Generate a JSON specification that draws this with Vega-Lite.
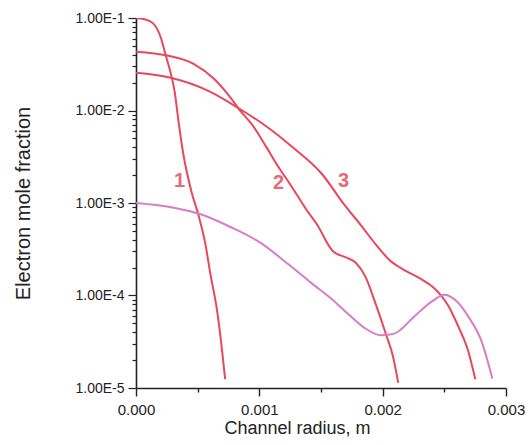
{
  "$schema": "https://vega.github.io/schema/vega-lite/v6.json",
  "autosize": "none",
  "width": 370,
  "height": 370,
  "padding": {"left": 136, "top": 18, "right": 24, "bottom": 57},
  "background": "white",
  "config": {"view": {"stroke": null}, "font": "Liberation Sans"},
  "datasets": {
    "curves": [
      {"curve": "1", "r": 0, "f": 0.1},
      {"curve": "1", "r": 0.00007, "f": 0.097},
      {"curve": "1", "r": 0.000137, "f": 0.088},
      {"curve": "1", "r": 0.0002, "f": 0.062},
      {"curve": "1", "r": 0.000237, "f": 0.0413},
      {"curve": "1", "r": 0.00029, "f": 0.0227},
      {"curve": "1", "r": 0.000312, "f": 0.0164},
      {"curve": "1", "r": 0.000346, "f": 0.0074},
      {"curve": "1", "r": 0.000385, "f": 0.0033},
      {"curve": "1", "r": 0.000448, "f": 0.00135},
      {"curve": "1", "r": 0.000509, "f": 0.00072},
      {"curve": "1", "r": 0.000561, "f": 0.00037},
      {"curve": "1", "r": 0.000604, "f": 0.000168},
      {"curve": "1", "r": 0.000655, "f": 0.000072},
      {"curve": "1", "r": 0.00069, "f": 0.0000316},
      {"curve": "1", "r": 0.000723, "f": 0.0000125},
      {"curve": "2", "r": 0, "f": 0.0432},
      {"curve": "2", "r": 0.000253, "f": 0.0393},
      {"curve": "2", "r": 0.00047, "f": 0.0318},
      {"curve": "2", "r": 0.00063, "f": 0.0222},
      {"curve": "2", "r": 0.000757, "f": 0.0143},
      {"curve": "2", "r": 0.000836, "f": 0.0103},
      {"curve": "2", "r": 0.000946, "f": 0.0069},
      {"curve": "2", "r": 0.00105, "f": 0.00417},
      {"curve": "2", "r": 0.00115, "f": 0.00251},
      {"curve": "2", "r": 0.00126, "f": 0.00152},
      {"curve": "2", "r": 0.001386, "f": 0.00083},
      {"curve": "2", "r": 0.001464, "f": 0.000596},
      {"curve": "2", "r": 0.001597, "f": 0.000301},
      {"curve": "2", "r": 0.001702, "f": 0.000258},
      {"curve": "2", "r": 0.001782, "f": 0.000226},
      {"curve": "2", "r": 0.001861, "f": 0.000159},
      {"curve": "2", "r": 0.001938, "f": 0.0000849},
      {"curve": "2", "r": 0.00203, "f": 0.000037},
      {"curve": "2", "r": 0.002082, "f": 0.0000224},
      {"curve": "2", "r": 0.002126, "f": 0.0000114},
      {"curve": "3", "r": 0, "f": 0.0256},
      {"curve": "3", "r": 0.000273, "f": 0.0227},
      {"curve": "3", "r": 0.000595, "f": 0.0161},
      {"curve": "3", "r": 0.000836, "f": 0.0105},
      {"curve": "3", "r": 0.00105, "f": 0.00685},
      {"curve": "3", "r": 0.00128, "f": 0.0039},
      {"curve": "3", "r": 0.001506, "f": 0.00207},
      {"curve": "3", "r": 0.001687, "f": 0.000966},
      {"curve": "3", "r": 0.001821, "f": 0.000581},
      {"curve": "3", "r": 0.001948, "f": 0.000351},
      {"curve": "3", "r": 0.002059, "f": 0.000239},
      {"curve": "3", "r": 0.002187, "f": 0.000185},
      {"curve": "3", "r": 0.002299, "f": 0.000154},
      {"curve": "3", "r": 0.002402, "f": 0.000125},
      {"curve": "3", "r": 0.002466, "f": 0.000103},
      {"curve": "3", "r": 0.002537, "f": 0.0000757},
      {"curve": "3", "r": 0.002615, "f": 0.0000457},
      {"curve": "3", "r": 0.002692, "f": 0.0000256},
      {"curve": "3", "r": 0.002751, "f": 0.0000124},
      {"curve": "4", "r": 0, "f": 0.001},
      {"curve": "4", "r": 0.000307, "f": 0.00089},
      {"curve": "4", "r": 0.000525, "f": 0.000755},
      {"curve": "4", "r": 0.000766, "f": 0.00055},
      {"curve": "4", "r": 0.001007, "f": 0.000373},
      {"curve": "4", "r": 0.001246, "f": 0.000212},
      {"curve": "4", "r": 0.00142, "f": 0.000137},
      {"curve": "4", "r": 0.001589, "f": 0.0000912},
      {"curve": "4", "r": 0.001725, "f": 0.0000622},
      {"curve": "4", "r": 0.001852, "f": 0.0000447},
      {"curve": "4", "r": 0.001989, "f": 0.0000371},
      {"curve": "4", "r": 0.002094, "f": 0.0000387},
      {"curve": "4", "r": 0.00226, "f": 0.00006},
      {"curve": "4", "r": 0.0024, "f": 0.0000863},
      {"curve": "4", "r": 0.002499, "f": 0.000102},
      {"curve": "4", "r": 0.002587, "f": 0.0000898},
      {"curve": "4", "r": 0.002697, "f": 0.0000584},
      {"curve": "4", "r": 0.002799, "f": 0.0000327},
      {"curve": "4", "r": 0.002889, "f": 0.0000127}
    ],
    "labels": [
      {"text": "1", "r": 0.000353, "f": 0.00174},
      {"text": "2", "r": 0.001155, "f": 0.00164},
      {"text": "3", "r": 0.001683, "f": 0.00171}
    ]
  },
  "encoding": {
    "x": {
      "field": "r", "type": "quantitative",
      "scale": {"domain": [0, 0.003], "nice": false, "zero": false},
      "axis": {
        "title": "Channel radius, m",
        "values": [0, 0.0005, 0.001, 0.0015, 0.002, 0.0025, 0.003],
        "labelExpr": "abs(datum.value*1000 - round(datum.value*1000)) < 0.000001 ? format(datum.value, '.3f') : ''",
        "grid": false,
        "domainColor": "#222", "domainWidth": 1.6,
        "tickColor": "#222", "tickWidth": 1.4,
        "tickSize": {"condition": {"test": "abs(datum.value*1000 - round(datum.value*1000)) < 0.000001", "value": 8}, "value": 4},
        "labelPadding": 6,
        "labelFontSize": 15, "labelColor": "#222", "labelFont": "Liberation Sans",
        "labelFlush": false, "labelOverlap": false,
        "titleFontSize": 18, "titleFontWeight": "normal", "titleColor": "#222", "titleFont": "Liberation Sans",
        "titleBaseline": "alphabetic", "titleX": 161, "titleY": 45
      }
    },
    "y": {
      "field": "f", "type": "quantitative",
      "scale": {"type": "log", "domain": [0.00001, 0.1], "nice": false},
      "axis": {
        "title": "Electron mole fraction",
        "values": [0.00001, 0.00002, 0.00003, 0.00004, 0.00005, 0.00006, 0.00007, 0.00008, 0.00009,
                   0.0001, 0.0002, 0.0003, 0.0004, 0.0005, 0.0006, 0.0007, 0.0008, 0.0009,
                   0.001, 0.002, 0.003, 0.004, 0.005, 0.006, 0.007, 0.008, 0.009,
                   0.01, 0.02, 0.03, 0.04, 0.05, 0.06, 0.07, 0.08, 0.09, 0.1],
        "labelExpr": "abs(log(datum.value)/LN10 - round(log(datum.value)/LN10)) < 0.000001 ? upper(format(datum.value, '.2e')) : ''",
        "grid": false,
        "domainColor": "#222", "domainWidth": 1.6,
        "tickColor": "#222", "tickWidth": 1.2,
        "tickSize": {"condition": {"test": "abs(log(datum.value)/LN10 - round(log(datum.value)/LN10)) < 0.000001", "value": 8}, "value": 4},
        "labelPadding": 4,
        "labelFontSize": 14, "labelColor": "#222", "labelFont": "Liberation Sans",
        "labelFlush": false, "labelOverlap": false,
        "titleFontSize": 20, "titleFontWeight": "normal", "titleColor": "#222", "titleFont": "Liberation Sans",
        "titleX": -103, "titleY": 185
      }
    }
  },
  "layer": [
    {
      "data": {"name": "curves"},
      "mark": {"type": "line", "interpolate": "monotone", "clip": true},
      "encoding": {
        "detail": {"field": "curve"},
        "color": {
          "field": "curve", "type": "nominal", "legend": null,
          "scale": {"domain": ["1", "2", "3", "4"], "range": ["#e8475c", "#e8475c", "#e8475c", "#d87cc8"]}
        },
        "strokeWidth": {
          "field": "curve", "type": "nominal", "legend": null,
          "scale": {"domain": ["1", "2", "3", "4"], "range": [2, 2, 2, 1.6]}
        }
      }
    },
    {
      "data": {"name": "labels"},
      "mark": {"type": "text", "fontSize": 20, "fontWeight": "bold", "color": "#e66a74", "align": "center", "baseline": "middle", "font": "Liberation Sans"},
      "encoding": {"text": {"field": "text"}}
    }
  ]
}
